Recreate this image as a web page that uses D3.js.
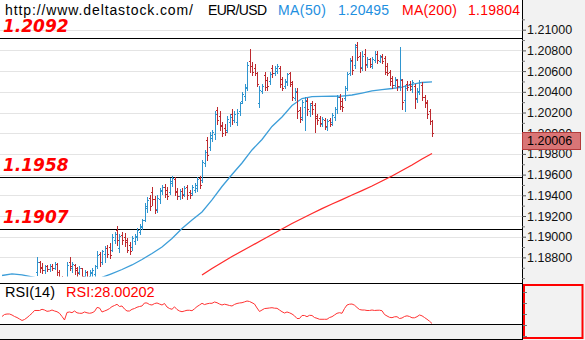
<!DOCTYPE html>
<html><head><meta charset="utf-8">
<script src="https://cdn.jsdelivr.net/npm/d3@7/dist/d3.min.js"></script>
<style>body{margin:0;background:#fff}svg{display:block}</style>
</head><body><svg id="c" width="585" height="340"></svg>
<script>
// ---- DATA (EUR/USD bars) ----
const opens = [1.1857,1.1855,1.1853,1.1854,1.1852,1.1850,1.1852,1.1850,1.1849,1.1851,1.1855,1.1857,1.1859,1.1860,
1.1866,1.1876,1.1871,1.1868,1.1872,1.1869,1.1872,1.1870,1.1874,1.1866,1.1859,1.1857,1.1855,1.1876,1.1870,1.1873,
1.1870,1.1866,1.1870,1.1862,1.1866,1.1862,1.1865,1.1864,1.1872,1.1883,1.1876,1.1883,1.1889,1.1890,1.1887,1.1897,
1.1906,1.1889,1.1902,1.1900,1.1897,1.1892,1.1890,1.1896,1.1900,1.1905,1.1909,1.1916,1.1928,1.1937,1.1943,1.1936,
1.1927,1.1936,1.1944,1.1948,1.1945,1.1943,1.1952,1.1956,1.1944,1.1939,1.1944,1.1941,1.1948,1.1943,1.1942,1.1945,
1.1947,1.1957,1.1955,1.1971,1.1993,1.1987,1.1995,1.1999,1.2022,1.2017,1.2008,1.2005,1.2003,1.2011,1.2019,1.2013,
1.2011,1.2021,1.2031,1.2036,1.2044,1.2070,1.2065,1.2063,1.2058,1.2029,1.2041,1.2056,1.2051,1.2050,1.2063,1.2058,
1.2060,1.2063,1.2052,1.2046,1.2049,1.2058,1.2048,1.2034,1.2040,1.2022,1.2016,1.2025,1.2031,1.2021,1.2029,1.2027,
1.2017,1.2015,1.2009,1.2013,1.2006,1.2013,1.2011,1.2016,1.2023,1.2035,1.2031,1.2034,1.2044,1.2058,1.2071,1.2066,
1.2085,1.2075,1.2064,1.2077,1.2066,1.2072,1.2065,1.2071,1.2077,1.2070,1.2075,1.2073,1.2065,1.2059,1.2053,1.2047,
1.2051,1.2046,1.2051,1.2032,1.2048,1.2048,1.2043,1.2046,1.2033,1.2040,1.2047,1.2035,1.2030,1.2021,1.2012];
const highs = [1.1859,1.1858,1.1856,1.1857,1.1855,1.1854,1.1855,1.1853,1.1852,1.1856,1.1858,1.1860,1.1861,1.1861,
1.1880,1.1877,1.1875,1.1873,1.1873,1.1874,1.1874,1.1876,1.1875,1.1868,1.1862,1.1860,1.1876,1.1880,1.1876,1.1874,
1.1871,1.1872,1.1870,1.1868,1.1867,1.1868,1.1870,1.1873,1.1886,1.1885,1.1887,1.1891,1.1892,1.1894,1.1903,1.1905,
1.1910,1.1903,1.1905,1.1904,1.1899,1.1895,1.1901,1.1903,1.1908,1.1912,1.1917,1.1933,1.1938,1.1940,1.1948,1.1939,
1.1940,1.1947,1.1950,1.1951,1.1948,1.1957,1.1959,1.1958,1.1947,1.1946,1.1947,1.1949,1.1950,1.1945,1.1950,1.1952,
1.1958,1.1959,1.1974,1.1984,1.1996,1.2001,1.2003,1.2021,1.2025,1.2021,1.2011,1.2009,1.2017,1.2019,1.2023,1.2021,
1.2023,1.2030,1.2040,1.2048,1.2069,1.2081,1.2069,1.2067,1.2059,1.2046,1.2048,1.2059,1.2054,1.2059,1.2066,1.2065,
1.2067,1.2065,1.2054,1.2052,1.2058,1.2059,1.2050,1.2044,1.2044,1.2025,1.2032,1.2035,1.2034,1.2029,1.2031,1.2029,
1.2019,1.2017,1.2016,1.2015,1.2014,1.2015,1.2020,1.2025,1.2037,1.2038,1.2034,1.2046,1.2059,1.2073,1.2075,1.2086,
1.2088,1.2078,1.2079,1.2081,1.2074,1.2073,1.2074,1.2079,1.2079,1.2076,1.2077,1.2075,1.2068,1.2061,1.2055,1.2054,
1.2052,1.2083,1.2052,1.2047,1.2050,1.2050,1.2051,1.2048,1.2044,1.2051,1.2049,1.2037,1.2032,1.2023,1.2013];
const lows = [1.1853,1.1851,1.1850,1.1851,1.1849,1.1849,1.1849,1.1847,1.1847,1.1849,1.1852,1.1854,1.1855,1.1856,
1.1863,1.1866,1.1865,1.1865,1.1867,1.1867,1.1868,1.1869,1.1863,1.1857,1.1854,1.1851,1.1853,1.1868,1.1866,1.1864,
1.1862,1.1864,1.1859,1.1860,1.1859,1.1860,1.1862,1.1862,1.1870,1.1872,1.1874,1.1876,1.1880,1.1879,1.1886,1.1894,
1.1892,1.1885,1.1893,1.1891,1.1885,1.1883,1.1887,1.1893,1.1897,1.1903,1.1907,1.1915,1.1924,1.1926,1.1931,1.1923,
1.1924,1.1933,1.1941,1.1938,1.1936,1.1941,1.1949,1.1940,1.1936,1.1936,1.1937,1.1939,1.1936,1.1937,1.1940,1.1943,
1.1944,1.1947,1.1953,1.1968,1.1974,1.1984,1.1992,1.1994,1.2009,1.2003,1.1997,1.1998,1.2001,1.2007,1.2009,1.2011,
1.2008,1.2018,1.2029,1.2032,1.2042,1.2059,1.2056,1.2056,1.2046,1.2025,1.2039,1.2042,1.2042,1.2048,1.2054,1.2056,
1.2058,1.2045,1.2042,1.2044,1.2047,1.2046,1.2032,1.2032,1.2015,1.2011,1.2013,1.2003,1.2018,1.2017,1.2019,1.2001,
1.2009,1.2007,1.2007,1.2004,1.2003,1.2007,1.2008,1.2013,1.2020,1.2023,1.2021,1.2032,1.2042,1.2056,1.2057,1.2063,
1.2071,1.2059,1.2061,1.2061,1.2064,1.2064,1.2063,1.2069,1.2068,1.2069,1.2068,1.2057,1.2056,1.2047,1.2044,1.2046,
1.2042,1.2042,1.2023,1.2021,1.2042,1.2042,1.2040,1.2024,1.2030,1.2038,1.2032,1.2025,1.2015,1.2009,1.1997];
const closes = [1.1855,1.1853,1.1854,1.1852,1.1850,1.1852,1.1850,1.1849,1.1851,1.1855,1.1857,1.1859,1.1860,1.1859,
1.1876,1.1870,1.1868,1.1872,1.1869,1.1872,1.1870,1.1874,1.1866,1.1859,1.1857,1.1853,1.1873,1.1872,1.1874,1.1868,
1.1865,1.1870,1.1862,1.1866,1.1861,1.1866,1.1868,1.1872,1.1882,1.1876,1.1886,1.1889,1.1883,1.1882,1.1900,1.1903,
1.1897,1.1901,1.1897,1.1895,1.1887,1.1886,1.1899,1.1901,1.1906,1.1910,1.1916,1.1930,1.1935,1.1930,1.1936,1.1926,
1.1937,1.1945,1.1948,1.1941,1.1939,1.1954,1.1957,1.1943,1.1939,1.1944,1.1940,1.1947,1.1940,1.1940,1.1948,1.1950,
1.1956,1.1950,1.1972,1.1982,1.1979,1.1998,1.2001,1.2019,1.2013,1.2007,1.2000,1.2001,1.2014,1.2016,1.2013,1.2019,
1.2020,1.2029,1.2038,1.2045,1.2066,1.2065,1.2059,1.2058,1.2048,1.2042,1.2046,1.2045,1.2046,1.2057,1.2058,1.2063,
1.2065,1.2048,1.2044,1.2050,1.2057,1.2049,1.2035,1.2041,1.2021,1.2014,1.2030,1.2032,1.2023,1.2027,1.2023,1.2015,
1.2013,1.2010,1.2014,1.2007,1.2012,1.2009,1.2018,1.2023,1.2035,1.2026,1.2025,1.2044,1.2057,1.2070,1.2061,1.2083,
1.2074,1.2063,1.2075,1.2067,1.2072,1.2067,1.2072,1.2077,1.2071,1.2074,1.2070,1.2059,1.2058,1.2050,1.2047,1.2052,
1.2046,1.2052,1.2030,1.2044,1.2045,1.2046,1.2049,1.2034,1.2041,1.2049,1.2035,1.2029,1.2019,1.2012,1.20006];

// moving averages, one reading every maStep bars
const maStep = 4;
const ma50 = [1.18625,1.18640,1.18632,1.18611,1.18591,1.18582,1.18572,1.18572,1.18577,1.18586,1.18606,1.18644,
1.18683,1.18727,1.18780,1.18838,1.18901,1.18983,1.19079,1.19161,1.19239,1.19355,1.19485,1.19601,1.19712,1.19838,
1.19939,1.20065,1.20157,1.20268,1.20335,1.20353,1.20355,1.20357,1.20359,1.20369,1.20388,1.20408,1.20422,1.20432,
1.20446,1.20471,1.20490,1.20495];
const ma200Start = 80;
const ma200 = [1.18630,1.18693,1.18751,1.18809,1.18862,1.18915,1.18968,1.19021,1.19074,1.19128,1.19176,1.19224,
1.19272,1.19316,1.19359,1.19403,1.19446,1.19490,1.19538,1.19586,1.19640,1.19693,1.19751,1.19804];

const rsi = [40.8,44.4,45.3,45.3,43.5,40.8,38.9,36.2,33.5,35.3,38.6,42.6,46.6,51.7,51.7,51.7,53.9,52.6,50.2,50.8,
52.6,50.8,49.5,46.6,40.8,34.4,48.1,49.0,47.7,50.8,47.5,46.6,46.6,49.0,47.5,46.6,47.5,49.9,57.2,56.3,49.0,50.8,
52.6,55.2,58.8,60.8,63.0,59.0,59.9,54.4,50.8,50.8,53.9,55.3,57.7,59.0,59.9,65.4,65.4,62.6,61.7,64.3,65.4,63.5,
61.7,64.5,58.1,55.3,53.9,58.4,53.5,50.8,49.5,50.8,52.1,52.1,51.3,54.8,58.8,61.7,64.8,62.5,63.9,64.8,64.8,67.2,
65.9,63.5,61.7,63.2,62.1,60.8,59.9,62.8,64.5,65.4,65.9,67.4,69.0,68.1,65.9,63.5,56.3,49.9,52.6,55.2,55.7,56.3,
56.8,55.9,55.7,52.6,49.5,47.1,49.0,47.5,45.3,42.0,37.1,37.1,42.6,42.6,40.4,42.9,42.6,38.9,37.5,35.7,35.7,35.7,
35.7,38.9,40.4,43.5,46.6,47.7,46.6,55.3,61.7,63.2,63.5,61.4,57.2,53.5,52.6,52.6,51.7,51.7,52.6,51.7,52.1,52.2,
51.3,44.4,41.7,39.3,38.6,40.2,40.4,37.1,38.0,40.8,42.0,40.8,38.4,38.4,40.4,43.5,42.0,38.9,35.7,32.2,28.00202];

const yTicks = [1.21,1.208,1.206,1.204,1.202,1.200,1.198,1.196,1.194,1.192,1.190,1.188];
const yMinorTicks = [1.211,1.209,1.207,1.205,1.203,1.201,1.199,1.197,1.195,1.193,1.191,1.189,1.187,1.186];
const levels = [1.2092,1.1958,1.1907];
const levelLabels = ["1.2092","1.1958","1.1907"];
const rsiTicks = [85,65,45,25,5];
const ma50Last = "1.20495", ma200Last = "1.19804", rsiLabel = "RSI:28.00202";

// ---- DRAWING ----
const svg = d3.select("#c");
const axisX = 522;
const upCol = "#2f95cf", dnCol = "#bd2a2f";
const x = d3.scaleLinear().domain([0, opens.length-1]).range([2, 432]);
const y = d3.scaleLinear().domain([1.188, 1.21]).range([257.4, 29.7]);
const yr = d3.scaleLinear().domain([28, 100]).range([323.5, 284]);

svg.append("rect").attr("width",585).attr("height",340).attr("fill","#fff");
svg.append("rect").attr("x",axisX).attr("y",0).attr("width",585-axisX).attr("height",340).attr("fill","#f2f2f2");
svg.append("rect").attr("x",0).attr("y",325).attr("width",axisX).attr("height",15).attr("fill","#f2f2f2");

const defs = svg.append("defs");
defs.append("clipPath").attr("id","clipMain").append("rect").attr("x",0).attr("y",0).attr("width",axisX).attr("height",276.5);
defs.append("clipPath").attr("id","clipRsi").append("rect").attr("x",0).attr("y",284).attr("width",axisX).attr("height",40);

// gridlines
svg.append("g").selectAll("line").data(yTicks).join("line")
  .attr("x1",0).attr("x2",axisX)
  .attr("y1",d=>Math.round(y(d))+0.5).attr("y2",d=>Math.round(y(d))+0.5)
  .attr("stroke","#e4e4e4").attr("stroke-width",1);

// level lines
svg.append("g").selectAll("line").data(levels).join("line")
  .attr("x1",0).attr("x2",axisX)
  .attr("y1",d=>Math.round(y(d))+0.5).attr("y2",d=>Math.round(y(d))+0.5)
  .attr("stroke","#000").attr("stroke-width",1);
svg.append("g").selectAll("text").data(levels).join("text")
  .attr("x",3).attr("y",d=>Math.round(y(d))-6)
  .attr("font-family","DejaVu Sans").attr("font-weight","bold").attr("font-style","italic")
  .attr("font-size",17).attr("fill","#ff0000")
  .text((d,i)=>levelLabels[i]);

const gMain = svg.append("g").attr("clip-path","url(#clipMain)");
// MA lines
const lineMA = d3.line().x(d=>x(d[0])).y(d=>y(d[1]));
gMain.append("path").datum(ma50.map((v,k)=>[k*maStep,v])).attr("d",lineMA)
  .attr("fill","none").attr("stroke","#3d9ed9").attr("stroke-width",1.3);
gMain.append("path").datum(ma200.map((v,k)=>[ma200Start+k*maStep,v])).attr("d",lineMA)
  .attr("fill","none").attr("stroke","#ff2b2b").attr("stroke-width",1.3);

// OHLC bars
gMain.selectAll("g.bar").data(d3.range(opens.length)).join("g").attr("class","bar").each(function(i){
  const g = d3.select(this);
  const cx = Math.round(x(i));
  const col = closes[i] >= opens[i] ? upCol : dnCol;
  const yh = Math.round(y(highs[i])), yl = Math.round(y(lows[i]));
  g.append("rect").attr("x",cx).attr("y",yh).attr("width",1).attr("height",Math.max(1,yl-yh+1)).attr("fill",col);
  g.append("rect").attr("x",cx-1).attr("y",Math.round(y(opens[i]))).attr("width",1).attr("height",1).attr("fill",col);
  g.append("rect").attr("x",cx+1).attr("y",Math.round(y(closes[i]))).attr("width",1).attr("height",1).attr("fill",col);
});

// RSI
svg.append("g").attr("clip-path","url(#clipRsi)").append("path").datum(rsi)
  .attr("d",d3.line().x((d,i)=>x(i)).y(d=>yr(d)))
  .attr("fill","none").attr("stroke","#ff3434").attr("stroke-width",1);

// frame lines
const hl = (yy)=>svg.append("line").attr("x1",0).attr("x2",axisX).attr("y1",yy).attr("y2",yy).attr("stroke","#000");
hl(283.5); hl(324.5); hl(339.5);
svg.append("line").attr("x1",axisX+0.5).attr("x2",axisX+0.5).attr("y1",0).attr("y2",340).attr("stroke","#000");

// price axis
const ax = svg.append("g").attr("transform",`translate(${axisX},0)`)
  .call(d3.axisRight(y).tickValues(yTicks).tickSize(4).tickPadding(1).tickFormat(d3.format(".5f")));
ax.select(".domain").remove();
ax.selectAll("line").attr("stroke","#555");
ax.selectAll("text").attr("font-family","Liberation Sans, Arial, sans-serif").attr("font-size",12.5).attr("fill","#111");
const axm = svg.append("g").attr("transform",`translate(${axisX},0)`)
  .call(d3.axisRight(y).tickValues(yMinorTicks).tickSize(3).tickFormat(""));
axm.select(".domain").remove();
axm.selectAll("line").attr("stroke","#777");

// last price box
const lastClose = closes[closes.length-1];
const by = Math.round(y(lastClose)) - 0.5;
svg.append("rect").attr("x",axisX+0.5).attr("y",by).attr("width",58).attr("height",17)
  .attr("fill","#d97576").attr("stroke","#b33a3a");
svg.append("text").attr("x",527).attr("y",by+8.5).attr("dy","0.35em")
  .attr("font-family","Liberation Sans, Arial, sans-serif").attr("font-size",12.5).attr("fill","#000")
  .text(d3.format(".5f")(lastClose));

// RSI axis box
svg.append("rect").attr("x",524).attr("y",285).attr("width",58.5).attr("height",53)
  .attr("fill","none").attr("stroke","#ff0000").attr("stroke-width",2);
svg.append("g").selectAll("line").data(rsiTicks).join("line")
  .attr("x1",axisX+1).attr("x2",axisX+5)
  .attr("y1",d=>Math.round(yr(d))+0.5).attr("y2",d=>Math.round(yr(d))+0.5).attr("stroke","#777");

// header
const hdr = [
  {t:"http://www.deltastock.com/", x:5, w:188, c:"#000"},
  {t:"EUR/USD", x:208, w:59, c:"#000"},
  {t:"MA(50)", x:278, w:48, c:"#1e8fe0"},
  {t:ma50Last, x:338, w:51, c:"#1e8fe0"},
  {t:"MA(200)", x:402, w:55, c:"#ff0000"},
  {t:ma200Last, x:468, w:52, c:"#ff0000"}
];
svg.append("g").selectAll("text").data(hdr).join("text")
  .attr("x",d=>d.x).attr("y",15).attr("textLength",d=>d.w).attr("lengthAdjust","spacing")
  .attr("font-family","Liberation Sans, Arial, sans-serif").attr("font-size",14).attr("fill",d=>d.c)
  .text(d=>d.t);

svg.append("text").attr("x",5).attr("y",297).attr("font-family","Liberation Sans, Arial, sans-serif")
  .attr("font-size",14.5).attr("fill","#000").text("RSI(14)");
svg.append("text").attr("x",66).attr("y",297).attr("font-family","Liberation Sans, Arial, sans-serif")
  .attr("font-size",14.5).attr("fill","#ff0000").text(rsiLabel);
</script></body></html>
